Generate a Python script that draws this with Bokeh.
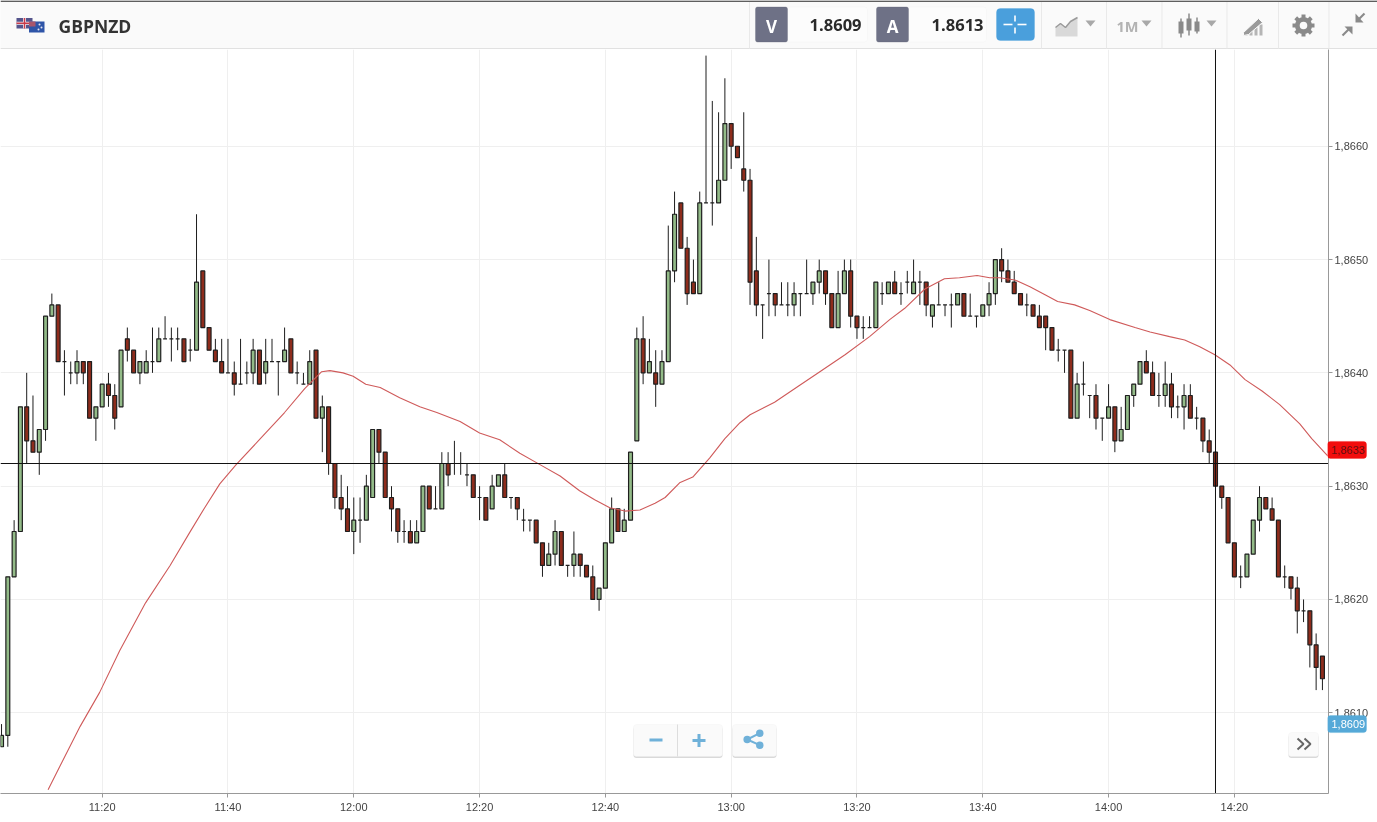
from math import cos, sin, pi
from bokeh.plotting import figure
from bokeh.models import (BoxAnnotation, ColumnDataSource, FixedTicker,
                          LinearAxis, Range1d)
from bokeh.core.properties import value
from bokeh.embed import file_html
from bokeh.resources import INLINE

# ---------- data: price = BASE + pips / 10000, one candle per minute ----------
BASE = 1.8600
FIRST_MINUTE = 664  # 11:04
open_pips = [
    7, 8, 22, 26, 37, 34, 33, 35, 45, 46,
    41, 40, 40, 41, 41, 36, 37, 39, 38, 37,
    43, 42, 40, 40, 41, 41, 43, 43, 43, 43,
    42, 42, 49, 44, 42, 41, 40, 40, 39, 40,
    40, 42, 40, 41, 41, 41, 43, 40, 39, 39,
    42, 36, 37, 32, 29, 28, 26, 27, 27, 29,
    35, 33, 29, 28, 26, 26, 25, 26, 30, 28,
    28, 32, 32, 32, 31, 31, 29, 29, 28, 30,
    31, 29, 29, 27, 27, 27, 25, 23, 24, 26,
    23, 23, 24, 23, 22, 20, 21, 25, 28, 26,
    27, 34, 43, 40, 40, 39, 41, 49, 55, 51,
    48, 47, 55, 55, 55, 57, 62, 60, 58, 57,
    49, 46, 47, 47, 46, 46, 46, 47, 47, 47,
    48, 49, 47, 44, 47, 49, 45, 44, 44, 44,
    47, 47, 48, 47, 48, 47, 48, 48, 45, 46,
    46, 46, 46, 47, 45, 45, 45, 46, 47, 50,
    49, 48, 47, 46, 46, 45, 45, 44, 42, 42,
    42, 36, 39, 38, 38, 36, 36, 37, 34, 35,
    38, 39, 41, 40, 38, 38, 39, 37, 37, 38,
    36, 36, 34, 33, 30, 29, 25, 22, 22, 24,
    27, 29, 28, 27, 22, 22, 21, 19, 19, 16, 15]
close_pips = [
    8, 22, 26, 37, 34, 33, 35, 45, 46, 41,
    41, 40, 41, 40, 36, 37, 39, 38, 36, 42,
    42, 40, 41, 41, 41, 43, 43, 43, 43, 41,
    42, 48, 44, 42, 41, 40, 40, 39, 39, 40,
    42, 39, 41, 41, 41, 42, 40, 40, 39, 41,
    36, 37, 32, 29, 28, 26, 27, 27, 30, 35,
    33, 29, 28, 26, 26, 25, 26, 30, 28, 28,
    32, 31, 32, 32, 31, 29, 29, 27, 30, 31,
    29, 29, 28, 27, 27, 25, 23, 24, 26, 23,
    23, 24, 23, 22, 20, 21, 25, 28, 26, 27,
    33, 43, 40, 41, 39, 41, 49, 54, 51, 47,
    47, 55, 55, 55, 57, 62, 60, 59, 57, 48,
    46, 46, 47, 46, 46, 46, 47, 47, 47, 48,
    49, 47, 44, 47, 49, 45, 44, 44, 44, 48,
    47, 48, 47, 47, 48, 48, 48, 46, 46, 46,
    46, 46, 47, 45, 45, 45, 46, 47, 50, 49,
    48, 47, 46, 46, 45, 44, 44, 42, 42, 42,
    36, 39, 39, 38, 36, 36, 37, 34, 35, 38,
    39, 41, 40, 38, 38, 39, 37, 37, 38, 36,
    36, 34, 33, 30, 29, 25, 22, 22, 24, 27,
    29, 28, 27, 22, 22, 21, 19, 19, 16, 14, 13]
high_pips = [
    9, 22, 27, 37, 40, 38, 35, 45, 47, 46,
    42, 41, 42, 41, 41, 37, 39, 40, 39, 42,
    44, 42, 41, 42, 44, 44, 45, 44, 44, 43,
    43, 54, 49, 44, 43, 43, 43, 41, 43, 41,
    43, 42, 43, 43, 41, 44, 43, 41, 40, 42,
    42, 38, 37, 32, 31, 30, 29, 29, 31, 35,
    35, 33, 30, 28, 27, 27, 27, 30, 30, 30,
    33, 33, 34, 33, 32, 31, 30, 29, 31, 31,
    32, 29, 29, 28, 27, 27, 25, 25, 27, 26,
    23, 26, 24, 23, 23, 21, 25, 29, 28, 28,
    33, 44, 45, 43, 42, 42, 53, 56, 55, 52,
    50, 56, 68, 64, 63, 66, 62, 60, 63, 58,
    52, 46, 50, 47, 48, 48, 48, 47, 50, 48,
    50, 49, 47, 49, 50, 50, 45, 45, 45, 48,
    48, 48, 49, 48, 49, 50, 49, 48, 46, 48,
    46, 47, 47, 47, 47, 45, 46, 48, 50, 51,
    50, 49, 47, 47, 46, 46, 45, 44, 43, 42,
    42, 40, 41, 38, 39, 36, 39, 37, 37, 38,
    39, 41, 42, 41, 40, 41, 40, 38, 39, 39,
    37, 36, 35, 33, 30, 29, 25, 23, 24, 27,
    30, 29, 29, 27, 23, 22, 22, 20, 19, 17, 15]
low_pips = [
    7, 7, 22, 26, 32, 33, 31, 34, 45, 41,
    38, 39, 39, 39, 36, 34, 37, 37, 35, 37,
    41, 40, 39, 40, 40, 41, 43, 41, 42, 41,
    41, 42, 44, 42, 41, 40, 40, 38, 39, 39,
    39, 39, 39, 41, 38, 41, 40, 39, 39, 39,
    36, 33, 31, 28, 27, 26, 24, 25, 27, 29,
    32, 29, 26, 25, 25, 25, 25, 26, 28, 28,
    28, 30, 31, 31, 30, 29, 27, 27, 28, 30,
    29, 28, 27, 26, 26, 25, 22, 23, 23, 23,
    22, 22, 22, 22, 20, 19, 21, 25, 26, 26,
    27, 34, 39, 40, 37, 39, 41, 48, 51, 46,
    47, 47, 55, 53, 55, 57, 58, 59, 56, 46,
    45, 43, 45, 45, 46, 45, 45, 45, 47, 46,
    47, 46, 44, 44, 47, 44, 43, 43, 44, 44,
    46, 47, 47, 46, 47, 47, 46, 45, 44, 46,
    45, 44, 46, 45, 45, 44, 45, 45, 46, 48,
    48, 47, 46, 45, 45, 44, 42, 42, 41, 40,
    36, 36, 38, 36, 35, 34, 36, 33, 34, 35,
    37, 39, 40, 38, 37, 37, 36, 36, 35, 36,
    35, 33, 32, 30, 28, 25, 22, 21, 22, 24,
    26, 28, 27, 22, 21, 20, 17, 18, 14, 12, 12]
ma_minutes = [671.4, 673.3, 676.5, 679.6, 682.8, 686.9, 690.8, 693.9, 696.3, 698.7, 701.3,
              705, 709, 712.2, 714.9, 716.2, 718.3, 719.9, 721.9, 724.2, 727.3, 730.5,
              733.2, 736.9, 740, 743.2, 746.4, 749.6, 752.8, 755.9, 758.3, 760.7, 763.1,
              765.5, 767.9, 769.5, 771.8, 773.9, 776.6, 779, 781.4, 783, 786.9, 790.9,
              794.1, 798.1, 802, 805.2, 807.6, 810.8, 813.9, 816.3, 819.1, 821.1, 822.7,
              825.1, 827.5, 829.9, 831.9, 834.6, 837, 840.2, 844.2, 846.6, 849.7, 852.1,
              854.5, 856.9, 859.3, 861.7, 864.4, 867.2, 870.4, 872.3, 874.8]
ma_pips = [3.2, 5.3, 8.8, 11.8, 15.5, 19.7, 23.0, 25.9, 28.1, 30.2, 31.9,
           34.1, 36.5, 38.6, 40.1, 40.2, 40.0, 39.7, 39.0, 38.7, 37.8, 37.0,
           36.5, 35.7, 34.7, 34.1, 32.9, 31.9, 30.9, 29.6, 28.8, 28.1, 27.8,
           27.9, 28.5, 29.0, 30.3, 30.8, 32.5, 34.2, 35.6, 36.3, 37.4, 38.9,
           40.1, 41.6, 43.2, 44.7, 45.7, 47.4, 48.3, 48.4, 48.6, 48.4, 48.4,
           48.2, 47.6, 46.9, 46.3, 46.0, 45.5, 44.7, 44.0, 43.6, 43.2, 42.9,
           42.3, 41.6, 40.7, 39.4, 38.4, 37.2, 35.5, 34.2, 32.7]
x_tick_minutes = [680, 700, 720, 740, 760, 780, 800, 820, 840, 860]
x_tick_labels = ["11:20", "11:40", "12:00", "12:20", "12:40", "13:00", "13:20", "13:40", "14:00", "14:20"]
y_tick_prices = [1.8610, 1.8620, 1.8630, 1.8640, 1.8650, 1.8660]
y_tick_labels = ["1,8610", "1,8620", "1,8630", "1,8640", "1,8650", "1,8660"]
crosshair_minute = 857
crosshair_price = 1.8632
ma_last, bid_last = 1.86332, 1.8609
symbol, bid_text, ask_text = "GBPNZD", "1.8609", "1.8613"

# ---------- geometry of the chart frame ----------
FRAME_W, FRAME_H, TOP_H, RIGHT_W, BOTTOM_H = 1328, 744, 49, 49, 29
X0, X1 = 663.8362, 874.9652      # minutes at frame left / right
Y0, Y1 = 1.86028738, 1.86685402  # prices at frame bottom / top
GREEN, RED, INK = "#93bb88", "#8e2c1c", "#1e1e1e"
ICON, BTN_BLUE = "#8a8a8a", "#6fb1d9"

def fx(px):
    return X0 + (X1 - X0) * px / FRAME_W

def fy(py):
    return Y1 - (Y1 - Y0) * (py - TOP_H) / FRAME_H

n = len(open_pips)
minutes = [FIRST_MINUTE + i for i in range(n)]
price = lambda v: BASE + v / 10000
src = ColumnDataSource(dict(
    x=minutes,
    h=[price(v) for v in high_pips], l=[price(v) for v in low_pips],
    top=[price(max(a, b)) for a, b in zip(open_pips, close_pips)],
    bot=[price(min(a, b)) for a, b in zip(open_pips, close_pips)],
    col=[GREEN if b >= a else RED for a, b in zip(open_pips, close_pips)],
))

# ---------- chart ----------
p = figure(frame_width=FRAME_W, frame_height=FRAME_H, output_backend="svg", toolbar_location=None,
           x_range=Range1d(X0, X1), y_range=Range1d(Y0, Y1), x_axis_location="below", y_axis_location=None,
           min_border_left=0, min_border_top=0, min_border_right=RIGHT_W, min_border_bottom=BOTTOM_H,
           background_fill_color="white", border_fill_color="white", outline_line_color=None,
           styles={"position": "fixed", "left": "0px", "top": f"{TOP_H}px"})
xaxis = p.xaxis[0]
xaxis.ticker = FixedTicker(ticks=x_tick_minutes)
xaxis.major_label_overrides = dict(zip(x_tick_minutes, x_tick_labels))
yaxis = LinearAxis(ticker=FixedTicker(ticks=y_tick_prices),
                   major_label_overrides=dict(zip(y_tick_prices, y_tick_labels)))
p.add_layout(yaxis, "right")
for ax in (xaxis, yaxis):
    ax.axis_line_color = "#999999"
    ax.major_tick_line_color = "#999999"
    ax.major_tick_in = 0
    ax.major_tick_out = 4
    ax.minor_tick_line_color = None
    ax.major_label_text_font = "Liberation Sans"
    ax.major_label_text_font_size = "11px"
    ax.major_label_text_color = "#444444"
    ax.major_label_standoff = 2
xaxis.major_label_standoff = 3
p.xgrid.ticker = FixedTicker(ticks=x_tick_minutes)
p.ygrid.ticker = FixedTicker(ticks=y_tick_prices)
p.grid.grid_line_color = "#efefef"

p.segment("x", "h", "x", "l", source=src, line_color=INK, line_width=1)
p.vbar("x", 0.62, "top", "bot", source=src, fill_color="col", line_color=INK, line_width=1.2)
p.line(ma_minutes, [price(v) for v in ma_pips], line_color="#cf5a5a", line_width=1.1)

# crosshair
p.segment([X0, crosshair_minute], [crosshair_price, Y0], [X1, crosshair_minute], [crosshair_price, Y1],
          line_color="#111111", line_width=1)

# floating buttons
def button(l, r, t, b):
    p.add_layout(BoxAnnotation(left=fx(l), right=fx(r), top=fy(t + 2), bottom=fy(b + 1.5), fill_color="#cfcfcf",
                               fill_alpha=0.8, line_color=None, border_radius=3))
    p.add_layout(BoxAnnotation(left=fx(l), right=fx(r), top=fy(t), bottom=fy(b), fill_color="#fafafa",
                               fill_alpha=1, line_color="#f0f0f0", border_radius=3))

button(633, 722, 724, 756)
button(732, 776, 724, 756)
button(1288, 1318, 732, 756)
def iseg(x0, y0, x1, y1, color, w):
    p.segment([fx(x0)], [fy(y0)], [fx(x1)], [fy(y1)], line_color=color, line_width=w, level="overlay")

iseg(677, 724, 677, 756, "#dddddd", 1)
iseg(649, 739.5, 662, 739.5, BTN_BLUE, 3)
iseg(692, 740, 705, 740, BTN_BLUE, 3)
iseg(698.5, 733.5, 698.5, 746.5, BTN_BLUE, 3)
iseg(759.3, 732.7, 746.7, 739, BTN_BLUE, 2)
iseg(759.3, 744.7, 746.7, 739, BTN_BLUE, 2)
p.scatter([fx(759.3), fx(746.7), fx(759.3)], [fy(732.7), fy(739), fy(744.7)], size=7.5, fill_color=BTN_BLUE,
          line_color=None, level="overlay")
for ox in (1297, 1304):
    p.line([fx(ox), fx(ox + 6), fx(ox)], [fy(738), fy(743.5), fy(749)], line_color="#666666", line_width=2, level="overlay")

# ---------- price tags: a clear strip over the price axis, on the same price scale ----------
tags = figure(frame_width=50, frame_height=FRAME_H, output_backend="svg", toolbar_location=None,
              x_range=Range1d(1327, 1377), y_range=Range1d(Y0, Y1), x_axis_location=None, y_axis_location=None,
              min_border=0, background_fill_color=None, border_fill_color=None, outline_line_color=None,
              styles={"position": "fixed", "left": "1327px", "top": f"{TOP_H}px"})
tags.grid.visible = False
TAG_HALF = 0.000075
for tag_price, tag_text, tag_fill, tag_ink in ((ma_last, "1,8633", "#f20d0d", "#5a1010"),
                                               (bid_last, "1,8609", "#55a9d8", "white")):
    tags.add_layout(BoxAnnotation(left=1327, right=1366, top=tag_price + TAG_HALF, bottom=tag_price - TAG_HALF,
                                  fill_color=tag_fill, fill_alpha=1, line_color=tag_fill, border_radius=3))
    tags.text([1331], [tag_price], text=[tag_text], text_font=value("Liberation Sans"), text_font_size="11px",
              text_color=tag_ink, text_baseline="middle", level="overlay")

# ---------- header bar (its scale is the bar's own pixels) ----------
h = figure(width=1377, height=TOP_H, output_backend="svg", toolbar_location=None,
           x_range=Range1d(0, 1377), y_range=Range1d(TOP_H, 0), x_axis_location=None, y_axis_location=None,
           min_border=0, background_fill_color="#fafafa", border_fill_color="#fafafa", outline_line_color=None,
           styles={"position": "fixed", "left": "0px", "top": "0px"})
h.grid.visible = False
h.quad(left=[0], right=[1377], top=[0], bottom=[1.3], fill_color="#2a2a2a", line_color=None)
h.segment([0], [48.5], [1377], [48.5], line_color="#c9c9c9", line_width=1)
for sx in (749, 1041, 1106, 1161.5, 1226.5, 1278, 1328.5):
    h.segment([sx], [1.5], [sx], [48], line_color="#e9e9e9", line_width=1)

# flags
h.quad(left=[16], right=[32], top=[17.5], bottom=[28], fill_color="#55558c", line_color=None)
h.segment([16, 24], [22.7, 17.5], [32, 24], [22.7, 28], line_color="#f3eef3", line_width=3)
h.segment([16, 24], [22.7, 17.5], [32, 24], [22.7, 28], line_color="#c83a4a", line_width=1.5)
h.quad(left=[28.5], right=[44], top=[21], bottom=[32], fill_color="#2f55a8", line_color=None)
h.quad(left=[28.5], right=[35], top=[21], bottom=[26], fill_color="#a8566c", line_color=None)
h.scatter([39, 41, 38], [24, 27, 29], size=2, fill_color="#e6e6f0", line_color=None)

txt = dict(text_baseline="middle")
h.text([58], [25.5], text=[symbol], text_font=value("Open Sans"), text_font_style="bold", text_font_size="17.5px",
       text_color="#333333", **txt)

def quote(x0, x1, x2, letter, val, val_right):
    h.add_layout(BoxAnnotation(left=x1 - 3, right=x2, top=6.5, bottom=41.5, fill_color="#fcfcfc", fill_alpha=1,
                               line_color="#eeeeee", border_radius=3))
    h.add_layout(BoxAnnotation(left=x0, right=x1, top=6.5, bottom=41.5, fill_color="#6e7186", fill_alpha=1,
                               line_color="#5c5f73", border_radius=2))
    h.text([(x0 + x1) / 2], [25.5], text=[letter], text_font=value("Open Sans"), text_font_style="bold",
           text_font_size="17px", text_color="white", text_align="center", level="overlay", **txt)
    h.text([val_right], [24.5], text=[val], text_font=value("Open Sans"), text_font_style="bold", text_font_size="16.5px",
           text_color="#2a2a2a", text_align="right", level="overlay", **txt)

quote(755, 787, 867, "V", bid_text, 861)
quote(876, 908, 986, "A", ask_text, 983)

h.add_layout(BoxAnnotation(left=996, right=1034, top=8, bottom=40, fill_color="#4a9fdc", fill_alpha=1,
                           line_color="#4a9fdc", border_radius=4))
h.segment([1003, 1017, 1014.5, 1014.5], [24, 24, 15, 27], [1012, 1026, 1014.5, 1014.5], [24, 24, 21, 33],
          line_color="white", line_width=1.6, level="overlay")

# line-chart icon
h.patch([1055, 1055, 1060, 1065, 1070, 1077, 1077], [36, 27, 23, 27, 21, 17, 36], fill_color="#d9d9d9", line_color=None)
h.line([1055, 1060, 1065, 1070, 1077], [27, 23, 27, 21, 17], line_color="#9a9a9a", line_width=1.5)
# carets
for cx in (1090, 1146, 1211):
    h.patch([cx - 5, cx + 5, cx], [20, 20, 26], fill_color="#a8a8a8", line_color=None)
h.text([1127], [25.5], text=["1M"], text_font=value("Open Sans"), text_font_style="bold", text_font_size="14.5px",
       text_color="#b3b3b3", text_align="center", **txt)
# candle icon
h.segment([1180.5, 1188.5, 1196.5], [18, 13, 17], [1180.5, 1188.5, 1196.5], [37, 35, 33], line_color=ICON, line_width=1.5)
h.quad(left=[1178, 1186, 1194], right=[1183, 1191, 1199], top=[21, 18, 21], bottom=[33, 30, 31], fill_color=ICON, line_color=None)
# drawing icon
h.quad(left=[1244, 1249, 1254, 1259], right=[1247, 1252, 1257, 1262], top=[31, 29, 27, 24], bottom=[35, 35, 35, 35],
       fill_color="#b5b5b5", line_color=None)
h.patch([1243, 1258, 1262, 1248, 1243], [32, 18, 22, 34, 35], fill_color="#9a9a9a", line_color="#fafafa", line_width=1)
# gear
gx, gy = 1303, 25
h.annulus([gx], [gy], inner_radius=3.8, outer_radius=8.6, fill_color=ICON, line_color=None)
for k in range(8):
    a = k * pi / 4
    h.segment([gx + 7 * cos(a)], [gy + 7 * sin(a)], [gx + 11 * cos(a)], [gy + 11 * sin(a)], line_color=ICON, line_width=4)
# collapse arrows
h.segment([1342, 1364], [35, 13], [1349, 1357], [28, 20], line_color=ICON, line_width=2.2)
h.patch([1344, 1352, 1352], [26, 26, 34], fill_color=ICON, line_color=None)
h.patch([1355, 1355, 1363], [13, 22, 22], fill_color=ICON, line_color=None)

open("out.html", "w").write(file_html([h, p, tags], INLINE))
